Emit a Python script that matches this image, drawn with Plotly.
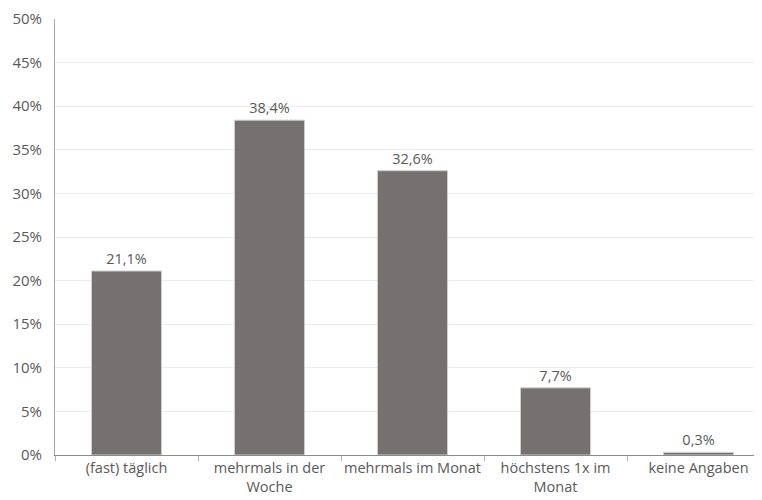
import plotly.graph_objects as go

categories = ["(fast) täglich", "mehrmals in der<br>Woche", "mehrmals im Monat", "höchstens 1x im<br>Monat", "keine Angaben"]
values = [21.1, 38.4, 32.6, 7.7, 0.3]
y_ticks = [0, 5, 10, 15, 20, 25, 30, 35, 40, 45, 50]
y_tick_labels = [f"{v}%" for v in y_ticks]
bar_labels = [f"{v:.1f}".replace(".", ",") + "%" for v in values]

W, H = 754, 492  # page body has an 8px margin

fig = go.Figure(go.Bar(
    x=categories,
    y=values,
    text=bar_labels,
    textposition="outside",
    cliponaxis=False,
    textfont=dict(size=14.5, color="#595959"),
    marker=dict(color="#767171", line=dict(color="#d0cece", width=1)),
    hoverinfo="skip",
))

fig.update_layout(
    width=W, height=H,
    margin=dict(l=47, r=0, t=11, b=45),
    paper_bgcolor="white", plot_bgcolor="white",
    font=dict(family="Open Sans, sans-serif", size=14.5, color="#595959"),
    bargap=0.51,
    showlegend=False,
)
fig.update_xaxes(
    range=[-0.5, -0.5 + (W - 47) / 143.0],
    automargin=False, tickangle=0,
    showline=True, linecolor="#8c8c8c", linewidth=1,
    ticks="outside", tickson="boundaries", ticklen=5, tickcolor="#b0b0b0",
    showgrid=False, tickfont=dict(size=14.5, color="#595959"),
)
fig.update_yaxes(
    range=[0, 50], tickvals=y_ticks, ticktext=y_tick_labels,
    automargin=False,
    showgrid=True, gridcolor="#ececec", gridwidth=1,
    showline=True, linecolor="#a6a6a6", linewidth=1,
    zeroline=False, ticklabelstandoff=9,
    tickfont=dict(size=15, color="#595959"),
)

fig.write_html("out.html")
